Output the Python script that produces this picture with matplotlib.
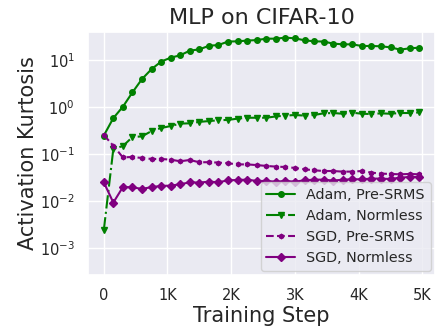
import numpy as np
import matplotlib
matplotlib.use("Agg")
import matplotlib.pyplot as plt
import seaborn as sns
from matplotlib.ticker import LogLocator, NullLocator

sns.set_theme(style="darkgrid")
plt.rcParams['font.family'] = ['DejaVu Sans']

# Training steps (logged every 150 steps)
steps = np.arange(34) * 150

adam_pre_srms = [0.25, 0.59, 1.03, 2.08, 4.0, 6.5, 9.4, 11.4, 12.8, 16.1,
                 17.1, 20.4, 21.2, 25.1, 25.4, 26.3, 27.0, 28.9, 28.9, 30.4,
                 29.4, 26.7, 25.4, 25.1, 22.7, 21.9, 21.9, 20.2, 20.2, 19.9,
                 18.9, 16.9, 18.0, 18.6]
adam_normless = [0.0024, 0.13, 0.15, 0.233, 0.241, 0.313, 0.363, 0.40, 0.45, 0.457,
                 0.49, 0.51, 0.53, 0.54, 0.574, 0.60, 0.60, 0.60, 0.64, 0.666,
                 0.687, 0.666, 0.687, 0.745, 0.757, 0.73, 0.77, 0.73, 0.72, 0.745,
                 0.73, 0.757, 0.757, 0.78]
sgd_pre_srms = [0.258, 0.152, 0.086, 0.0877, 0.0835, 0.0795, 0.0795, 0.077, 0.071, 0.0758,
                0.0676, 0.068, 0.0665, 0.0645, 0.061, 0.061, 0.059, 0.0566, 0.0547, 0.0537,
                0.0512, 0.048, 0.0457, 0.0441, 0.0441, 0.0428, 0.0428, 0.0441, 0.0408, 0.0388,
                0.0382, 0.0375, 0.0382, 0.0375]
sgd_normless = [0.0254, 0.0094, 0.0201, 0.0199, 0.0183, 0.0201, 0.0212, 0.0216, 0.023, 0.0254,
                0.025, 0.0262, 0.0254, 0.028, 0.0284, 0.0289, 0.0271, 0.0271, 0.0262, 0.0271,
                0.0262, 0.028, 0.0289, 0.0289, 0.0276, 0.0289, 0.0294, 0.0294, 0.0304, 0.0304,
                0.0298, 0.0319, 0.0329, 0.0329]

x_ticks = [0, 1000, 2000, 3000, 4000, 5000]
x_tick_labels = ["0", "1K", "2K", "3K", "4K", "5K"]

fig = plt.figure(figsize=(4.4, 3.27), dpi=100)
ax = fig.add_axes([0.2, 0.159, 0.7886, 0.743])

ax.plot(steps, adam_pre_srms, color="green", linestyle="-", marker="o",
        markersize=4, linewidth=1.5, label="Adam, Pre-SRMS")
ax.plot(steps, adam_normless, color="green", linestyle="-.", marker="v",
        markersize=5, linewidth=1.5, label="Adam, Normless")
ax.plot(steps, sgd_pre_srms, color="purple", linestyle="--", marker="h",
        markersize=3.2, linewidth=1.5, label="SGD, Pre-SRMS")
ax.plot(steps, sgd_normless, color="purple", linestyle="-", marker="D",
        markersize=4, linewidth=1.5, label="SGD, Normless")

ax.set_yscale("log")
ax.set_ylim(2.7e-4, 40)
ax.yaxis.set_major_locator(LogLocator(base=10, numticks=10))
ax.yaxis.set_minor_locator(NullLocator())
ax.set_xticks(x_ticks)
ax.set_xticklabels(x_tick_labels)
ax.tick_params(axis="both", labelsize=10.5, colors="#262626")

ax.set_title("MLP on CIFAR-10", fontsize=16, color="#262626")
ax.set_xlabel("Training Step", fontsize=15, color="#262626", labelpad=2)
ax.set_ylabel("Activation Kurtosis", fontsize=15, color="#262626", labelpad=1)

ax.legend(loc="lower right", fontsize=10.3, handlelength=2.0,
          borderaxespad=0.3)

fig.savefig("out.png", dpi=100)
